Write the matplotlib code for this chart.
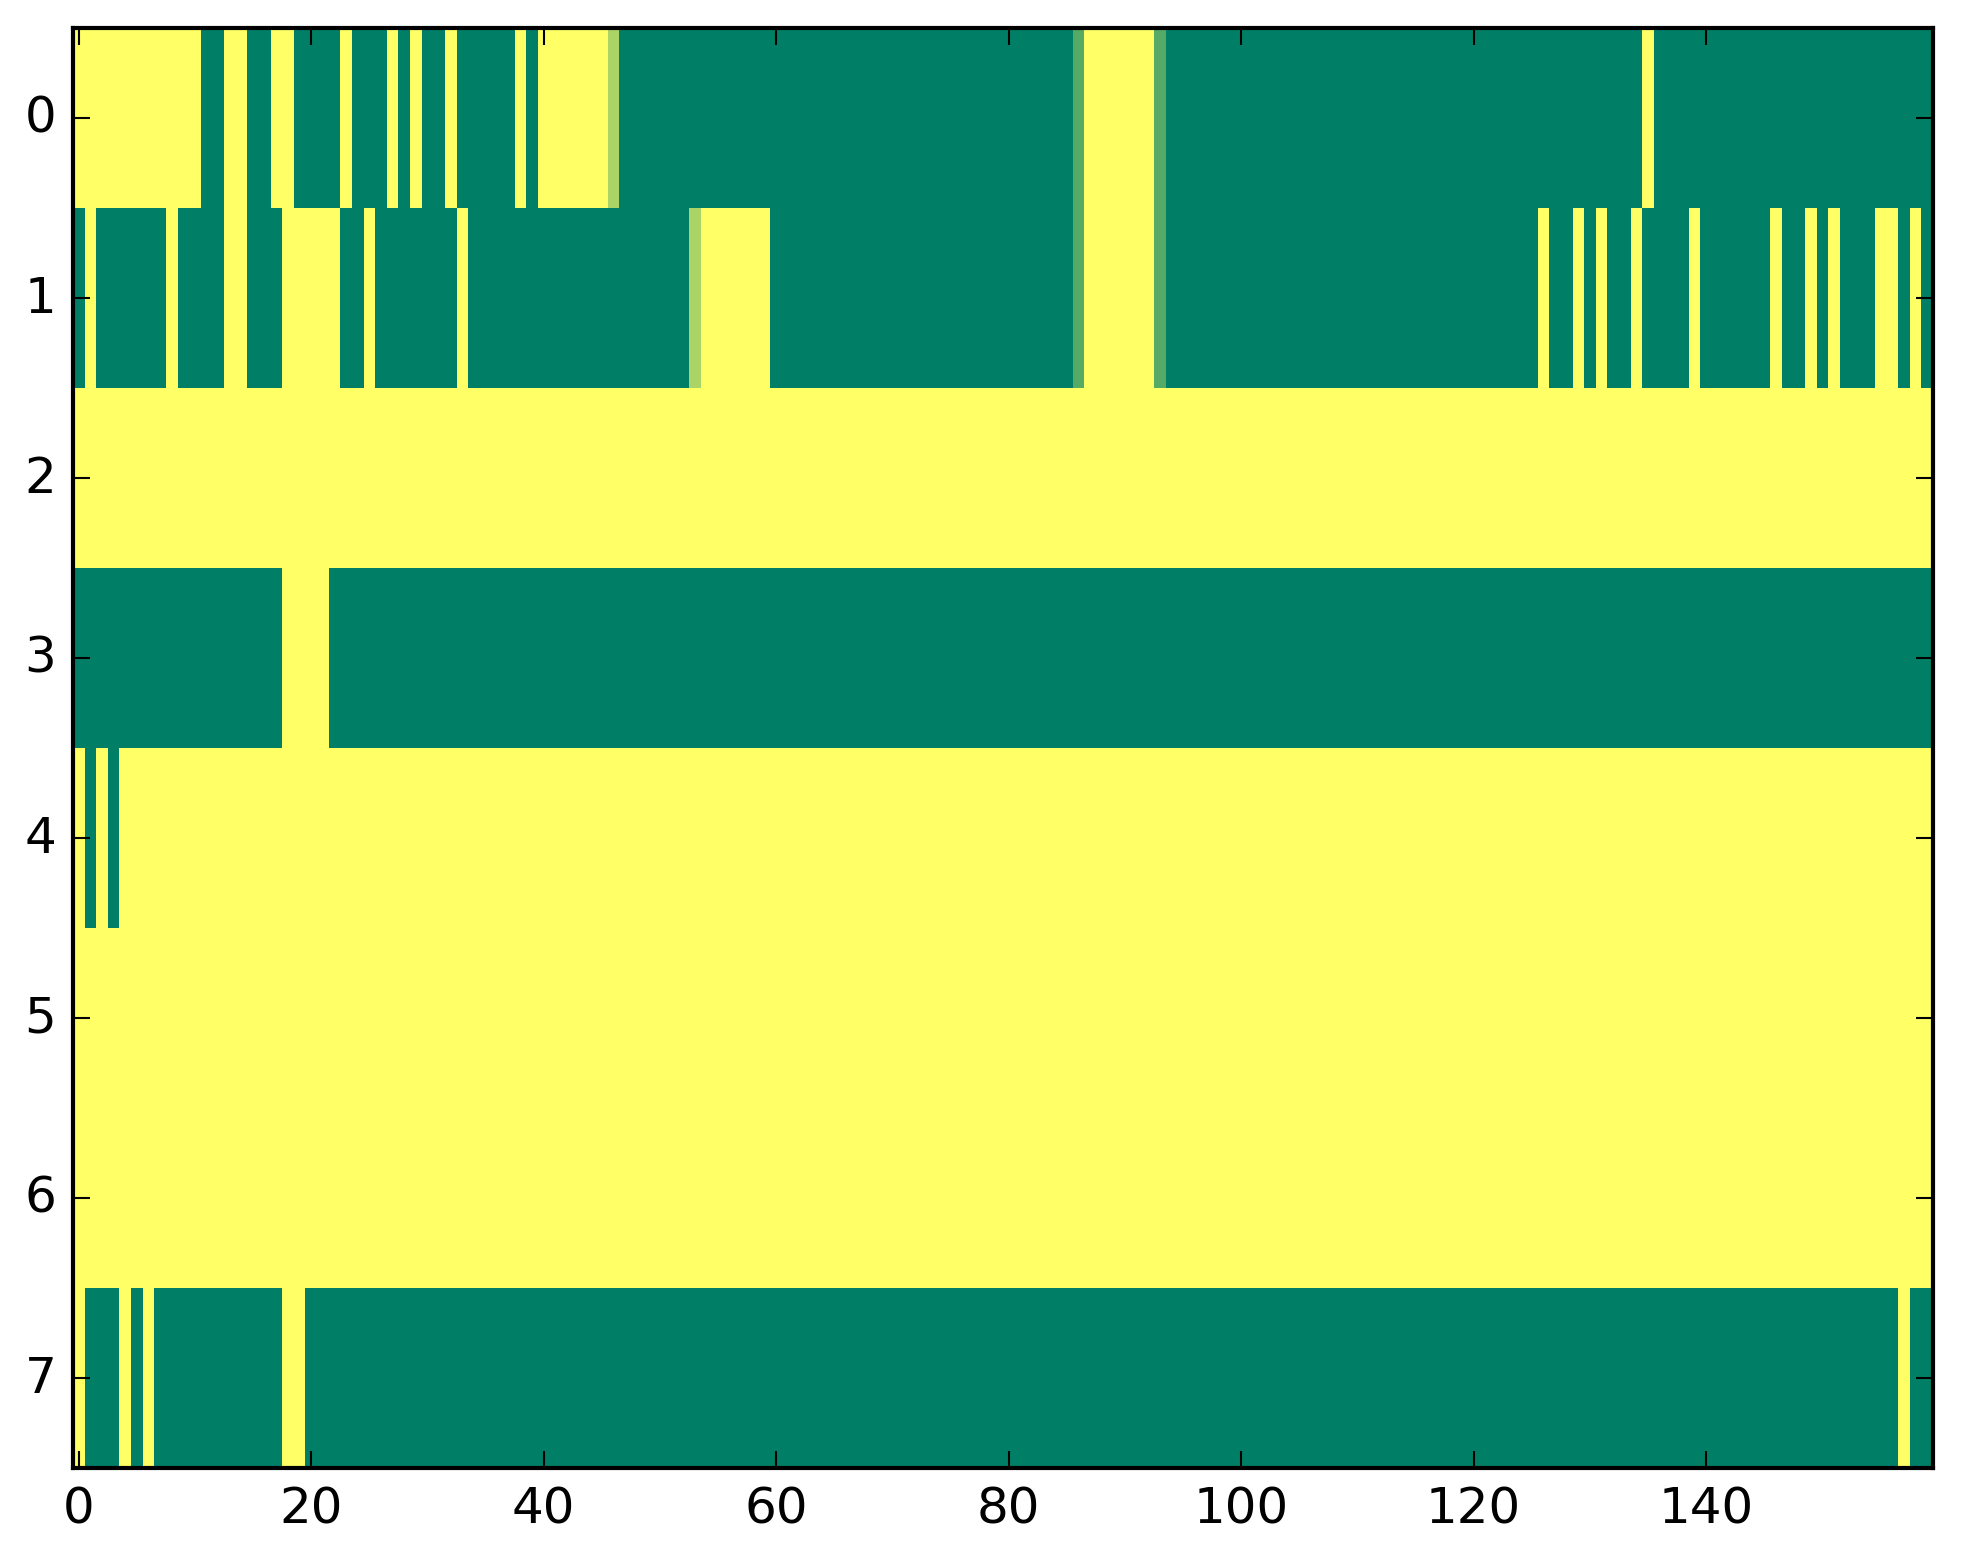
import numpy as np
import matplotlib
matplotlib.use("Agg")
import matplotlib.pyplot as plt

# one string per row, 10 cells per chunk
# '1' = 1.0, '0' = 0.0, 'a' = 2/3, 'b' = 1/3
row0 = ["1111111111", "1001100110", "0001000101", "0010000010",
        "111111a000", "0000000000", "0000000000", "0000000000",
        "000000b111", "111b000000", "0000000000", "0000000000",
        "0000000000", "0000010000", "0000000000", "0000000000"]
row1 = ["0100000010", "0001100011", "1110010000", "0001000000",
        "0000000000", "000a111111", "0000000000", "0000000000",
        "000000b111", "111b000000", "0000000000", "0000000000",
        "0000001001", "0100100001", "0000001001", "0100011010"]
row2 = ["1111111111"] * 16
row3 = ["0000000000", "0000000011", "1100000000", "0000000000",
        "0000000000", "0000000000", "0000000000", "0000000000",
        "0000000000", "0000000000", "0000000000", "0000000000",
        "0000000000", "0000000000", "0000000000", "0000000000"]
row4 = ["1010111111", "1111111111", "1111111111", "1111111111",
        "1111111111", "1111111111", "1111111111", "1111111111",
        "1111111111", "1111111111", "1111111111", "1111111111",
        "1111111111", "1111111111", "1111111111", "1111111111"]
row5 = ["1111111111"] * 16
row6 = ["1111111111"] * 16
row7 = ["1000101000", "0000000011", "0000000000", "0000000000",
        "0000000000", "0000000000", "0000000000", "0000000000",
        "0000000000", "0000000000", "0000000000", "0000000000",
        "0000000000", "0000000000", "0000000000", "0000000100"]

codes = {"0": 0.0, "1": 1.0, "a": 2.0 / 3.0, "b": 1.0 / 3.0}

rows = [row0, row1, row2, row3, row4, row5, row6, row7]
data = np.array([[codes[c] for c in "".join(r)] for r in rows])

plt.style.use("classic")
W, H = 1963, 1564
fig = plt.figure(figsize=(W / 300.0, H / 300.0), dpi=300)
ax = fig.add_axes([73.0 / W, 1 - 1468.7 / H, 1859.7 / W, 1440.0 / H])
ax.imshow(data, cmap="summer", interpolation="nearest", aspect="auto",
          vmin=0, vmax=1)

fig.savefig("out.png", dpi=300)
